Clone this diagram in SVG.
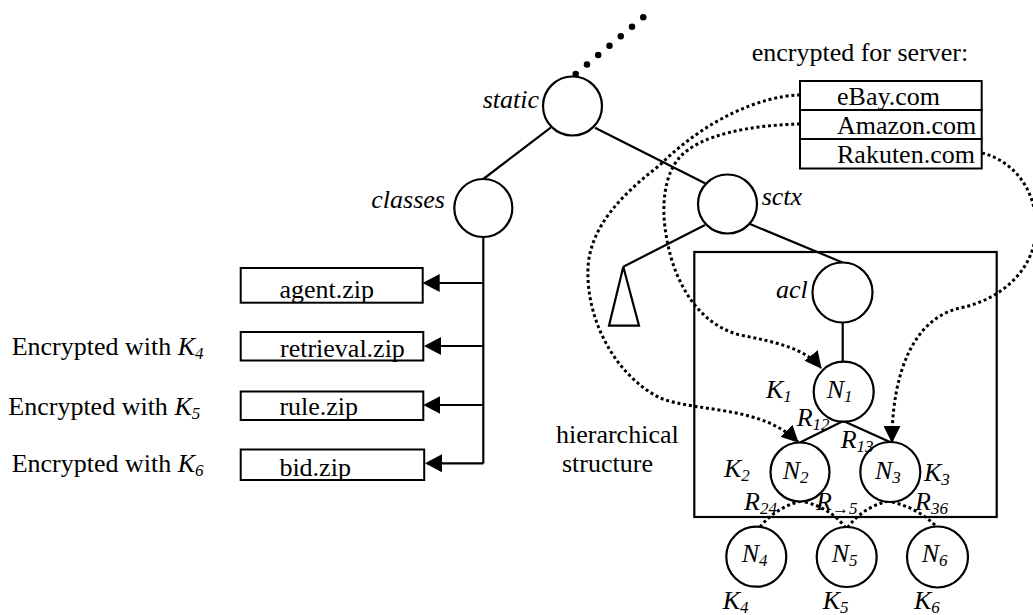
<svg xmlns="http://www.w3.org/2000/svg" width="1033" height="615" viewBox="0 0 1033 615" font-family="'Liberation Serif', 'Times New Roman', Times, 'DejaVu Serif', 'Noto Serif', serif">
<style>
text{font-family:'Liberation Serif','Times New Roman',Times,'DejaVu Serif',serif;font-size:26px;fill:#000}
.it{font-style:italic}
.sub{font-size:17px}
.nd{fill:#fff;stroke:#000;stroke-width:2.2}
.ln{stroke:#000;stroke-width:2.2;fill:none}
.bx{fill:#fff;stroke:#000;stroke-width:2}
.dot{stroke:#000;stroke-width:3;fill:none;stroke-dasharray:3 2.8}
</style>
<defs>
<marker id="ah" viewBox="0 0 17 18" refX="15" refY="9" markerWidth="17" markerHeight="18" markerUnits="userSpaceOnUse" orient="auto">
<path d="M0,0 L17,9 L0,18 Z" fill="#000" stroke="none"/>
</marker>
<marker id="dh" viewBox="0 0 17 17" refX="16" refY="8.5" markerWidth="17" markerHeight="17" markerUnits="userSpaceOnUse" orient="auto">
<path d="M0,0 L17,8.5 L0,17 Z" fill="#000" stroke="none"/>
</marker>
</defs>

<g id="connectors">
<line x1="575.7" y1="74" x2="643.3" y2="17.3" stroke="#000" stroke-width="6.5" stroke-linecap="round" stroke-dasharray="0 14.7"/>
<line class="ln" x1="550.7" y1="127.7" x2="483.3" y2="179"/>
<line class="ln" x1="595" y1="127.7" x2="705" y2="183.3"/>
<line class="ln" x1="705" y1="225" x2="623.3" y2="266.7"/>
<line class="ln" x1="750" y1="224" x2="842.5" y2="262.5"/>
<line class="ln" x1="842.7" y1="322" x2="842.7" y2="362"/>
<line class="ln" x1="843.3" y1="421" x2="800" y2="442.5"/>
<line class="ln" x1="843.3" y1="421" x2="890" y2="442"/>
<line class="ln" x1="483.3" y1="237" x2="483.3" y2="463.5"/>
<line class="ln" x1="483.3" y1="283" x2="424.7" y2="283" marker-end="url(#ah)"/>
<line class="ln" x1="483.3" y1="346" x2="426" y2="346" marker-end="url(#ah)"/>
<line class="ln" x1="483.3" y1="405" x2="425.3" y2="405" marker-end="url(#ah)"/>
<line class="ln" x1="483.3" y1="463.3" x2="427" y2="463.3" marker-end="url(#ah)"/>
<path class="dot" d="M800,95 C760,96 705,120 660,165 C625,192 590,225 588,268 C586,320 615,375 660,398 C700,413 760,405 798,442" marker-end="url(#dh)"/>
<path class="dot" d="M800,124 C750,125 700,135 680,157 C665,173 660,205 667,240 C675,285 700,325 740,335 C775,342 805,348 821,368" marker-end="url(#dh)"/>
<path class="dot" d="M982,153 C1010,160 1035,185 1036,225 C1037,270 1000,300 960,308 C915,318 892,370 892,442" marker-end="url(#dh)"/>
<path class="dot" d="M801,501 Q775,508 760,527"/>
<path class="dot" d="M805,502 Q830,508 845,527"/>
<path class="dot" d="M888,501 Q862,508 848,527"/>
<path class="dot" d="M892,502 Q918,508 937,527"/>
</g>

<g id="hier-box">
<rect x="694.3" y="252" width="302.4" height="265" fill="none" stroke="#000" stroke-width="2.2"/>
</g>

<g id="server-list">
<text x="751.7" y="61">encrypted for server:</text>
<rect class="bx" x="800" y="81" width="181.7" height="29"/>
<rect class="bx" x="800" y="110" width="181.7" height="29"/>
<rect class="bx" x="800" y="139" width="181.7" height="29.5"/>
<text x="837" y="105">eBay.com</text>
<text x="837" y="133.5">Amazon.com</text>
<text x="837" y="162.5">Rakuten.com</text>
</g>

<g id="static"><circle class="nd" cx="572.5" cy="106" r="29.5"/><text class="it" x="482.7" y="108">static</text></g>
<g id="classes"><circle class="nd" cx="483.3" cy="208" r="29"/><text class="it" x="445" y="208" text-anchor="end">classes</text></g>
<g id="sctx"><circle class="nd" cx="727.5" cy="204" r="29.5"/><text class="it" x="761.7" y="205">sctx</text></g>
<g id="subtree"><polygon points="623.3,266.7 609,325.7 639,325.7" fill="#fff" stroke="#000" stroke-width="2.2"/></g>
<g id="acl"><circle class="nd" cx="842.5" cy="292.5" r="30"/><text class="it" x="776" y="298">acl</text></g>

<g id="N1"><circle class="nd" cx="843.7" cy="391.7" r="30"/>
<text class="it" x="826.7" y="398">N<tspan class="sub" dy="4">1</tspan></text>
<text class="it" x="766" y="398">K<tspan class="sub" dy="4">1</tspan></text></g>
<g id="N2"><circle class="nd" cx="800" cy="472" r="29.5"/>
<text class="it" x="782.7" y="479">N<tspan class="sub" dy="4">2</tspan></text>
<text class="it" x="724" y="476.7">K<tspan class="sub" dy="4">2</tspan></text></g>
<g id="N3"><circle class="nd" cx="890.3" cy="472" r="30"/>
<text class="it" x="875" y="479">N<tspan class="sub" dy="4">3</tspan></text>
<text class="it" x="924" y="481">K<tspan class="sub" dy="4">3</tspan></text></g>
<g id="N4"><circle class="nd" cx="756.3" cy="556.7" r="30"/>
<text class="it" x="741.7" y="562">N<tspan class="sub" dy="4">4</tspan></text>
<text class="it" x="722.7" y="609">K<tspan class="sub" dy="4">4</tspan></text></g>
<g id="N5"><circle class="nd" cx="846.7" cy="557" r="30"/>
<text class="it" x="831.7" y="562">N<tspan class="sub" dy="4">5</tspan></text>
<text class="it" x="822.7" y="609">K<tspan class="sub" dy="4">5</tspan></text></g>
<g id="N6"><circle class="nd" cx="937.5" cy="557" r="30.5"/>
<text class="it" x="921.7" y="562">N<tspan class="sub" dy="4">6</tspan></text>
<text class="it" x="914" y="609">K<tspan class="sub" dy="4">6</tspan></text></g>

<g id="edge-labels">
<text class="it" x="796.7" y="426">R<tspan class="sub" dy="4">12</tspan></text>
<text class="it" x="840.7" y="447.5">R<tspan class="sub" dy="4">13</tspan></text>
<text class="it" x="744" y="510">R<tspan class="sub" dy="4">24</tspan></text>
<text class="it" x="816" y="510">R<tspan class="sub" dy="4">→5</tspan></text>
<text class="it" x="915" y="510">R<tspan class="sub" dy="4">36</tspan></text>
</g>

<g id="hier-label">
<text x="556" y="443">hierarchical</text>
<text x="562" y="472">structure</text>
</g>

<g id="agent"><rect class="bx" x="240.7" y="268" width="182" height="34.7"/><text x="279.4" y="298">agent.zip</text></g>
<g id="retrieval"><rect class="bx" x="240.7" y="332" width="182.6" height="28.5"/><text x="280" y="356.5">retrieval.zip</text></g>
<g id="rule"><rect class="bx" x="240.7" y="391.5" width="182.6" height="28.5"/><text x="279.4" y="415">rule.zip</text></g>
<g id="bid"><rect class="bx" x="240.7" y="449.5" width="183.5" height="30.5"/><text x="279.4" y="476">bid.zip</text></g>

<g id="enc-labels">
<text x="11.7" y="355">Encrypted with <tspan class="it">K</tspan><tspan class="it sub" dy="4">4</tspan></text>
<text x="8.3" y="414.5">Encrypted with <tspan class="it">K</tspan><tspan class="it sub" dy="4">5</tspan></text>
<text x="11.7" y="471.5">Encrypted with <tspan class="it">K</tspan><tspan class="it sub" dy="4">6</tspan></text>
</g>
</svg>
